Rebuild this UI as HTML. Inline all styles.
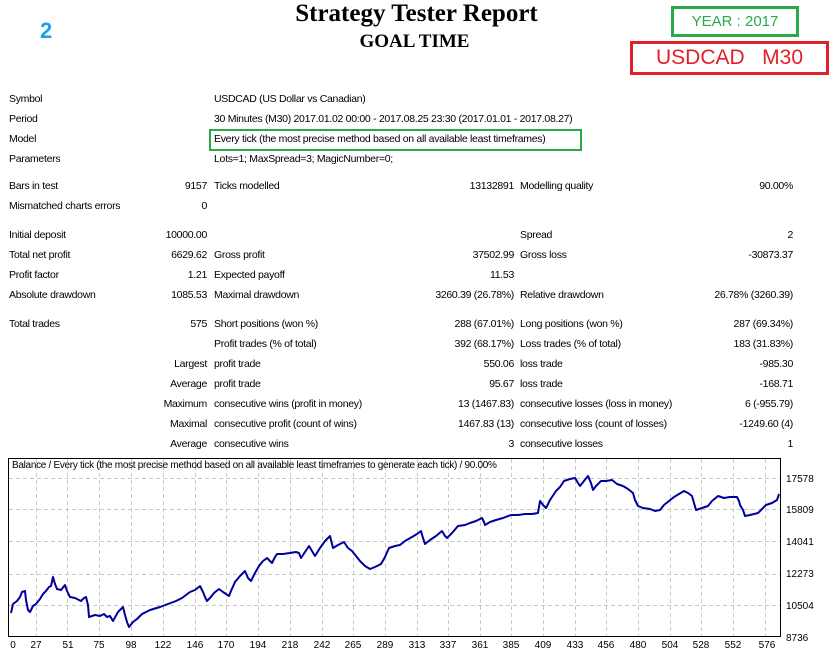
<!DOCTYPE html>
<html><head><meta charset="utf-8"><style>
body{margin:0;width:833px;height:655px;background:#fff;position:relative;overflow:hidden;font-family:"Liberation Sans",sans-serif;}
.t{position:absolute;font-size:10.5px;color:#000;white-space:nowrap;line-height:12px;letter-spacing:-0.3px;font-family:"Liberation Sans",sans-serif;}
.r{text-align:right;}
</style></head><body>
<div style="position:absolute;left:40px;top:18px;color:#1ea0e6;font:bold 22px 'Liberation Sans',sans-serif;">2</div>
<div style="position:absolute;left:0;width:833px;top:0;text-align:center;font:bold 25px 'Liberation Serif',serif;">Strategy Tester Report</div>
<div style="position:absolute;left:0;width:829px;top:31px;text-align:center;font:bold 19px 'Liberation Serif',serif;">GOAL TIME</div>
<div style="position:absolute;left:671px;top:6px;width:122px;height:25px;border:3px solid #2aa84a;color:#2aa84a;font:15px 'Liberation Sans',sans-serif;text-align:center;line-height:25px;">YEAR : 2017</div>
<div style="position:absolute;left:630px;top:41px;width:193px;height:28px;border:3px solid #e0202a;color:#e0202a;font:21px 'Liberation Sans',sans-serif;text-align:center;line-height:28px;">USDCAD&nbsp;&nbsp;&nbsp;M30</div>
<div style="position:absolute;left:209px;top:129px;width:369px;height:18px;border:2px solid #2aa84a;"></div>

<div class="t" style="left:9px;top:93px">Symbol</div><div class="t" style="left:214px;top:93px">USDCAD (US Dollar vs Canadian)</div>
<div class="t" style="left:9px;top:113px">Period</div><div class="t" style="left:214px;top:113px">30 Minutes (M30) 2017.01.02 00:00 - 2017.08.25 23:30 (2017.01.01 - 2017.08.27)</div>
<div class="t" style="left:9px;top:133px">Model</div><div class="t" style="left:214px;top:133px">Every tick (the most precise method based on all available least timeframes)</div>
<div class="t" style="left:9px;top:153px">Parameters</div><div class="t" style="left:214px;top:153px">Lots=1; MaxSpread=3; MagicNumber=0;</div>

<div class="t" style="left:9px;top:180px">Bars in test</div><div class="t r" style="right:626px;top:180px">9157</div><div class="t" style="left:214px;top:180px">Ticks modelled</div><div class="t r" style="right:319px;top:180px">13132891</div><div class="t" style="left:520px;top:180px">Modelling quality</div><div class="t r" style="right:40px;top:180px">90.00%</div>
<div class="t" style="left:9px;top:200px">Mismatched charts errors</div><div class="t r" style="right:626px;top:200px">0</div>

<div class="t" style="left:9px;top:229px">Initial deposit</div><div class="t r" style="right:626px;top:229px">10000.00</div><div class="t" style="left:520px;top:229px">Spread</div><div class="t r" style="right:40px;top:229px">2</div>
<div class="t" style="left:9px;top:249px">Total net profit</div><div class="t r" style="right:626px;top:249px">6629.62</div><div class="t" style="left:214px;top:249px">Gross profit</div><div class="t r" style="right:319px;top:249px">37502.99</div><div class="t" style="left:520px;top:249px">Gross loss</div><div class="t r" style="right:40px;top:249px">-30873.37</div>
<div class="t" style="left:9px;top:269px">Profit factor</div><div class="t r" style="right:626px;top:269px">1.21</div><div class="t" style="left:214px;top:269px">Expected payoff</div><div class="t r" style="right:319px;top:269px">11.53</div>
<div class="t" style="left:9px;top:289px">Absolute drawdown</div><div class="t r" style="right:626px;top:289px">1085.53</div><div class="t" style="left:214px;top:289px">Maximal drawdown</div><div class="t r" style="right:319px;top:289px">3260.39 (26.78%)</div><div class="t" style="left:520px;top:289px">Relative drawdown</div><div class="t r" style="right:40px;top:289px">26.78% (3260.39)</div>

<div class="t" style="left:9px;top:318px">Total trades</div><div class="t r" style="right:626px;top:318px">575</div><div class="t" style="left:214px;top:318px">Short positions (won %)</div><div class="t r" style="right:319px;top:318px">288 (67.01%)</div><div class="t" style="left:520px;top:318px">Long positions (won %)</div><div class="t r" style="right:40px;top:318px">287 (69.34%)</div>
<div class="t" style="left:214px;top:338px">Profit trades (% of total)</div><div class="t r" style="right:319px;top:338px">392 (68.17%)</div><div class="t" style="left:520px;top:338px">Loss trades (% of total)</div><div class="t r" style="right:40px;top:338px">183 (31.83%)</div>
<div class="t r" style="right:626px;top:358px">Largest</div><div class="t" style="left:214px;top:358px">profit trade</div><div class="t r" style="right:319px;top:358px">550.06</div><div class="t" style="left:520px;top:358px">loss trade</div><div class="t r" style="right:40px;top:358px">-985.30</div>
<div class="t r" style="right:626px;top:378px">Average</div><div class="t" style="left:214px;top:378px">profit trade</div><div class="t r" style="right:319px;top:378px">95.67</div><div class="t" style="left:520px;top:378px">loss trade</div><div class="t r" style="right:40px;top:378px">-168.71</div>
<div class="t r" style="right:626px;top:398px">Maximum</div><div class="t" style="left:214px;top:398px">consecutive wins (profit in money)</div><div class="t r" style="right:319px;top:398px">13 (1467.83)</div><div class="t" style="left:520px;top:398px">consecutive losses (loss in money)</div><div class="t r" style="right:40px;top:398px">6 (-955.79)</div>
<div class="t r" style="right:626px;top:418px">Maximal</div><div class="t" style="left:214px;top:418px">consecutive profit (count of wins)</div><div class="t r" style="right:319px;top:418px">1467.83 (13)</div><div class="t" style="left:520px;top:418px">consecutive loss (count of losses)</div><div class="t r" style="right:40px;top:418px">-1249.60 (4)</div>
<div class="t r" style="right:626px;top:438px">Average</div><div class="t" style="left:214px;top:438px">consecutive wins</div><div class="t r" style="right:319px;top:438px">3</div><div class="t" style="left:520px;top:438px">consecutive losses</div><div class="t r" style="right:40px;top:438px">1</div>

<svg style="position:absolute;left:0;top:0" width="833" height="655">
<g stroke="#c8c8c8" stroke-dasharray="4,3" stroke-width="1">
<line x1="9" y1="478.5" x2="781" y2="478.5"/><line x1="9" y1="509.5" x2="781" y2="509.5"/><line x1="9" y1="541.5" x2="781" y2="541.5"/><line x1="9" y1="574.5" x2="781" y2="574.5"/><line x1="9" y1="605.5" x2="781" y2="605.5"/>
<line x1="36.5" y1="459" x2="36.5" y2="636"/><line x1="67.5" y1="459" x2="67.5" y2="636"/><line x1="99.5" y1="459" x2="99.5" y2="636"/><line x1="131.5" y1="459" x2="131.5" y2="636"/><line x1="163.5" y1="459" x2="163.5" y2="636"/><line x1="195.5" y1="459" x2="195.5" y2="636"/><line x1="226.5" y1="459" x2="226.5" y2="636"/><line x1="258.5" y1="459" x2="258.5" y2="636"/><line x1="290.5" y1="459" x2="290.5" y2="636"/><line x1="322.5" y1="459" x2="322.5" y2="636"/><line x1="353.5" y1="459" x2="353.5" y2="636"/><line x1="385.5" y1="459" x2="385.5" y2="636"/><line x1="417.5" y1="459" x2="417.5" y2="636"/><line x1="448.5" y1="459" x2="448.5" y2="636"/><line x1="480.5" y1="459" x2="480.5" y2="636"/><line x1="511.5" y1="459" x2="511.5" y2="636"/><line x1="543.5" y1="459" x2="543.5" y2="636"/><line x1="575.5" y1="459" x2="575.5" y2="636"/><line x1="606.5" y1="459" x2="606.5" y2="636"/><line x1="638.5" y1="459" x2="638.5" y2="636"/><line x1="670.5" y1="459" x2="670.5" y2="636"/><line x1="701.5" y1="459" x2="701.5" y2="636"/><line x1="733.5" y1="459" x2="733.5" y2="636"/><line x1="765.5" y1="459" x2="765.5" y2="636"/>
</g>
<rect x="8.5" y="458.5" width="772" height="178" fill="none" stroke="#000"/>
<polyline fill="none" stroke="#00009c" stroke-width="2" stroke-linejoin="round" points="11,613 13,604 17,601 20,597 22,592 25,591 26,600 28,610 30,612 33,606 36,604 40,599 43,594 46,591 49,587 51,586 53,577 55,584 57,589 61,590 65,585 67,591 70,597 75,598 81,601 84,598 86,597 88,605 89,617 95,615 100,616 104,614 107,617 110,616 113,621 118,612 123,607 125,615 127,622 129,627 133,622 137,619 142,614 150,610 160,607 168,604 176,601 182,598 190,592 195,590 200,586 203,592 205,597 207,601 210,598 214,593 219,589 223,592 229,596 231,591 235,582 240,576 245,571 248,578 251,581 255,573 259,566 263,561 267,558 270,561 272,563 275,557 277,554 283,554 290,553 296,552 299,553 301,558 305,552 309,546 312,551 315,556 320,548 325,541 330,536 332,544 333,548 338,545 344,542 348,548 352,551 356,556 360,561 365,566 370,569 375,567 381,564 385,557 389,548 395,546 400,545 405,541 412,537 417,534 421,531 423,538 425,544 430,540 436,536 442,531 445,536 447,538 452,533 458,526 465,525 470,523 476,521 482,518 484,522 485,525 490,522 496,520 503,518 511,515 518,515 525,514 532,514 538,513 540,501 543,505 546,508 550,500 556,491 560,487 564,481 570,479 575,478 578,483 580,486 584,481 588,476 591,483 593,490 596,486 601,481 606,481 612,480 617,484 623,486 628,489 633,493 635,500 638,506 643,508 650,509 655,511 660,510 664,505 669,501 674,497 679,494 684,491 688,493 692,496 694,503 696,510 702,508 708,506 712,501 718,496 724,498 730,497 737,497 739,501 740,505 743,510 745,516 750,515 758,513 762,509 766,505 772,503 777,500 779,494"/>
<g font-family="Liberation Sans, sans-serif" font-size="10" fill="#000">
<text x="12" y="468" letter-spacing="-0.3">Balance / Every tick (the most precise method based on all available least timeframes to generate each tick) / 90.00%</text>
<text x="786" y="482">17578</text><text x="786" y="513">15809</text><text x="786" y="545">14041</text><text x="786" y="577">12273</text><text x="786" y="609">10504</text><text x="786" y="641">8736</text>
<g text-anchor="middle">
<text x="13" y="648">0</text><text x="36" y="648">27</text><text x="68" y="648">51</text><text x="99" y="648">75</text><text x="131" y="648">98</text><text x="163" y="648">122</text><text x="195" y="648">146</text><text x="226" y="648">170</text><text x="258" y="648">194</text><text x="290" y="648">218</text><text x="322" y="648">242</text><text x="353" y="648">265</text><text x="385" y="648">289</text><text x="417" y="648">313</text><text x="448" y="648">337</text><text x="480" y="648">361</text><text x="511" y="648">385</text><text x="543" y="648">409</text><text x="575" y="648">433</text><text x="606" y="648">456</text><text x="638" y="648">480</text><text x="670" y="648">504</text><text x="701" y="648">528</text><text x="733" y="648">552</text><text x="767" y="648">576</text>
</g></g>
</svg>
</body></html>
